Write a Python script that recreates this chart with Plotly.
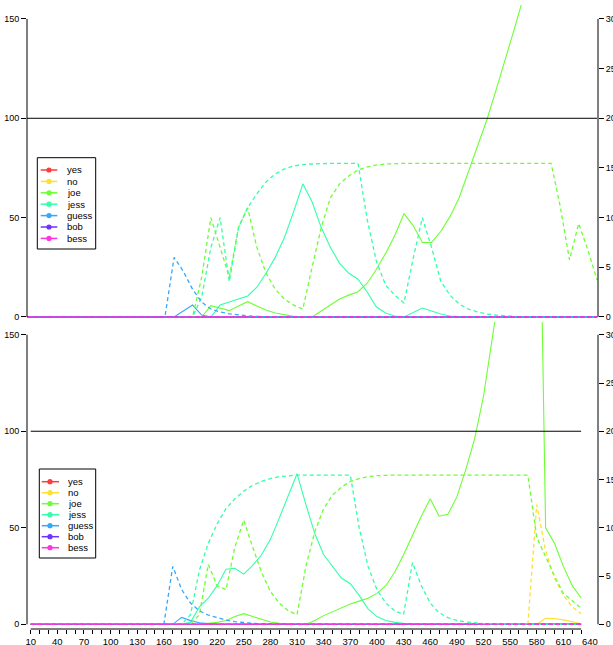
import plotly.graph_objects as go

# ---------------- data ----------------
x = list(range(10, 640, 10))  # 63 points
series = ["yes", "no", "joe", "jess", "guess", "bob", "bess"]
colors = ["#ff3b3b", "#ffdf33", "#6dff33", "#33ffa8", "#33a8ff", "#6d33ff", "#ff33e2"]
zeros = [0] * 63

# top panel, solid (left axis)
top_joe_solid = [0,0,0,0,0,0,0,0,0,0,
                 0,0,0,0,0,0,0,0,0,0,
                 5.7,4.5,3.2,5.5,7.7,5.5,3.5,2.0,1.0,0.3,
                 0,0,3,6,9,11,12.7,17,24,32,
                 41,52,46,37.5,37.5,43,50.5,60,73,87,
                 99,114,129,145,161,178,196,215,235,256,
                 278,301,325]
top_jess_solid = [0,0,0,0,0,0,0,0,0,0,
                  0,0,0,0,0,0,0,0,0,0,
                  0,6,7.5,9,10.6,15,22,30,40,53,
                  67,58,45,35,27,22,19,12.6,5,2,
                  0.5,0,2.3,4.5,3,1.5,0.5,0.1,0,0,
                  0,0,0,0,0,0,0,0,0,0,
                  0,0,0]
top_guess_solid = [0,0,0,0,0,0,0,0,0,0,
                   0,0,0,0,0,0,0,3,6,1,
                   0,0,0,0,0,0,0,0,0,0,
                   0,0,0,0,0,0,0,0,0,0,
                   0,0,0,0,0,0,0,0,0,0,
                   0,0,0,0,0,0,0,0,0,0,
                   0,0,0]
# top panel, dashed (right axis)
top_joe_dash = [0,0,0,0,0,0,0,0,0,0,
                0,0,0,0,0,0,0,0,0,4,
                10,7,4,9,11,7,4.4,2.8,1.8,1.2,
                0.8,5,9,12,13.4,14.2,14.8,15.1,15.3,15.4,
                15.46,15.46,15.46,15.46,15.46,15.46,15.46,15.46,15.46,15.46,
                15.46,15.46,15.46,15.46,15.46,15.46,15.46,15.46,11.1,5.74,
                9.4,6.74,3.72]
top_jess_dash = [0,0,0,0,0,0,0,0,0,0,
                 0,0,0,0,0,0,0,0,0,2,
                 7,10,3.56,9,11,12.4,13.6,14.4,14.9,15.2,
                 15.34,15.4,15.46,15.46,15.46,15.46,15.46,9.8,5.6,3.2,
                 2.2,1.4,5.9,10,7,3.6,2.2,1.3,0.8,0.5,
                 0.3,0.2,0.1,0.06,0.02,0,0,0,0,0,
                 0,0,0]
top_guess_dash = [0,0,0,0,0,0,0,0,0,0,
                  0,0,0,0,0,0,6,4.6,2.8,1.5,
                  0.8,0.5,0.32,0.2,0.12,0.06,0.02,0,0,0,
                  0,0,0,0,0,0,0,0,0,0,
                  0,0,0,0,0,0,0,0,0,0,
                  0,0,0,0,0,0,0,0,0,0,
                  0,0,0]

# bottom panel, solid (left axis)
bot_no_solid = [0,0,0,0,0,0,0,0,0,0,
                0,0,0,0,0,0,0,0,0,0,
                0,0,0,0,0,0,0,0,0,0,
                0,0,0,0,0,0,0,0,0,0,
                0,0,0,0,0,0,0,0,0,0,
                0,0,0,0,0,0,0,0,3.1,3.0,
                2.3,1.3,0.3]
bot_joe_solid = [0,0,0,0,0,0,0,0,0,0,
                 0,0,0,0,0,0,0,0,0,0,
                 0.5,1,2,4,5.5,4,2.5,1.2,0.5,0.2,
                 0,0,2,4.5,6.5,8.5,10.5,12,13.5,16,
                 20,27,36,46,56,65,56,57,66,80,
                 96,118,145,175,205,240,280,330,50,42,
                 30,20,13.6]
bot_jess_solid = [0,0,0,0,0,0,0,0,0,0,
                  0,0,0,0,0,0,0,0,1,9,
                  13.5,20,28.5,29,26,30.5,36,44,55,66,
                  78,62,47,36,30,24,21,15,8,4,
                  2,1,0.5,0.2,0,0,0,0,0,0,
                  0,0,0,0,0,0,0,0,0,0,
                  0,0,0]
bot_guess_solid = [0,0,0,0,0,0,0,0,0,0,
                   0,0,0,0,0,0,0,3.6,1.9,0.8,
                   0.3,0,0,0,0,0,0,0,0,0,
                   0,0,0,0,0,0,0,0,0,0,
                   0,0,0,0,0,0,0,0,0,0,
                   0,0,0,0,0,0,0,0,0,0,
                   0,0,0]
# bottom panel, dashed (right axis)
bot_no_dash = [0,0,0,0,0,0,0,0,0,0,
               0,0,0,0,0,0,0,0,0,0,
               0,0,0,0,0,0,0,0,0,0,
               0,0,0,0,0,0,0,0,0,0,
               0,0,0,0,0,0,0,0,0,0,
               0,0,0,0,0,0,0,12.4,7.6,4.8,
               3,1.8,1.1]
bot_joe_dash = [0,0,0,0,0,0,0,0,0,0,
                0,0,0,0,0,0,0,0,0,1,
                6.2,4,3.6,8,10.8,8,5.4,3.4,2.2,1.4,
                1,6,9.6,12,13.4,14.2,14.8,15.1,15.3,15.4,
                15.46,15.46,15.46,15.46,15.46,15.46,15.46,15.46,15.46,15.46,
                15.46,15.46,15.46,15.46,15.46,15.46,15.46,9,7,5,
                3.2,2.4,1.68]
bot_jess_dash = [0,0,0,0,0,0,0,0,0,0,
                 0,0,0,0,0,0,0,0,1,5.6,
                 8.4,10.4,12,13,13.8,14.4,14.8,15.1,15.3,15.4,
                 15.46,15.46,15.46,15.46,15.46,15.46,15.46,10,6,3.6,
                 2.2,1.4,1,6.4,4,2.2,1.2,0.7,0.4,0.24,
                 0.14,0.08,0.04,0.02,0,0,0,0,0,0,
                 0,0,0]
bot_guess_dash = [0,0,0,0,0,0,0,0,0,0,
                  0,0,0,0,0,0,6,3.6,2.2,1.4,
                  0.96,0.7,0.44,0.28,0.18,0.1,0.06,0.02,0,0,
                  0,0,0,0,0,0,0,0,0,0,
                  0,0,0,0,0,0,0,0,0,0,
                  0,0,0,0,0,0,0,0,0,0,
                  0,0,0]

top_solid = {"yes": zeros, "no": zeros, "joe": top_joe_solid, "jess": top_jess_solid,
             "guess": top_guess_solid, "bob": zeros, "bess": zeros}
top_dash = {"yes": zeros, "no": zeros, "joe": top_joe_dash, "jess": top_jess_dash,
            "guess": top_guess_dash, "bob": zeros, "bess": zeros}
bot_solid = {"yes": zeros, "no": bot_no_solid, "joe": bot_joe_solid, "jess": bot_jess_solid,
             "guess": bot_guess_solid, "bob": zeros, "bess": zeros}
bot_dash = {"yes": zeros, "no": bot_no_dash, "joe": bot_joe_dash, "jess": bot_jess_dash,
            "guess": bot_guess_dash, "bob": zeros, "bess": zeros}

left_ticks = [0, 50, 100, 150]
right_ticks = [0, 5, 10, 15, 20, 25, 30]
x_ticks = list(range(10, 640, 10))
x_labels = [str(v) if (v - 10) % 30 == 0 else "" for v in x_ticks]
ref_level = 100

# ---------------- figure ----------------
W, H = 613, 645
ML, MR, MT, MB = 27, 15, 5, 16
PW, PH = W - ML - MR, H - MT - MB
SPLIT = (H - MB - 322) / PH

FONT = "Liberation Sans, Arial, Helvetica, sans-serif"
fig = go.Figure()

for name, col in zip(series, colors):
    fig.add_trace(go.Scatter(x=x, y=top_solid[name], mode="lines", xaxis="x", yaxis="y",
                             line=dict(color=col, width=1.1), showlegend=False))
    fig.add_trace(go.Scatter(x=x, y=top_dash[name], mode="lines", xaxis="x", yaxis="y2",
                             line=dict(color=col, width=1.3, dash="4px,3px"), showlegend=False))
    fig.add_trace(go.Scatter(x=x, y=bot_solid[name], mode="lines", xaxis="x2", yaxis="y3",
                             line=dict(color=col, width=1.1), showlegend=False))
    fig.add_trace(go.Scatter(x=x, y=bot_dash[name], mode="lines", xaxis="x2", yaxis="y4",
                             line=dict(color=col, width=1.3, dash="4px,3px"), showlegend=False))

ax_common = dict(showgrid=False, zeroline=False, showline=False, ticks="outside",
                 ticklen=5, tickcolor="black", tickfont=dict(size=9, color="black", family=FONT))

fig.update_layout(
    width=W, height=H, margin=dict(l=ML, r=MR, t=MT, b=MB, autoexpand=False),
    paper_bgcolor="white", plot_bgcolor="white", font=dict(family=FONT),
    xaxis=dict(domain=[0, 1], anchor="y", range=[10, 631], visible=False),
    yaxis=dict(domain=[SPLIT, 1], anchor="x", range=[-2.52, 157.0], tickvals=left_ticks, **ax_common),
    yaxis2=dict(overlaying="y", side="right", anchor="x", range=[-0.504, 31.4],
                tickvals=right_ticks, **ax_common),
    xaxis2=dict(domain=[0, 1], anchor="y3", range=[5.83, 649.0], tickvals=x_ticks,
                ticktext=x_labels, showgrid=False, zeroline=False, showline=False,
                ticks="outside", ticklen=4, tickcolor="black", tickangle=0,
                tickfont=dict(size=9.5, color="black", family=FONT)),
    yaxis3=dict(domain=[0, SPLIT], anchor="x2", range=[-2.43, 156.58], tickvals=left_ticks, **ax_common),
    yaxis4=dict(overlaying="y3", side="right", anchor="x2", range=[-0.487, 31.32],
                tickvals=right_ticks, **ax_common),
)

shapes = []
line_k = dict(color="black", width=1)
# axis lines spanning only the tick range
shapes.append(dict(type="line", xref="x domain", yref="y", x0=0, x1=0, y0=0, y1=150, line=line_k))
shapes.append(dict(type="line", xref="x domain", yref="y2", x0=1, x1=1, y0=0, y1=30, line=line_k))
shapes.append(dict(type="line", xref="x2 domain", yref="y3", x0=0, x1=0, y0=0, y1=150, line=line_k))
shapes.append(dict(type="line", xref="x2 domain", yref="y4", x0=1, x1=1, y0=0, y1=30, line=line_k))
shapes.append(dict(type="line", xref="x2", yref="y3 domain", x0=x[0], x1=x[-1], y0=0, y1=0, line=line_k))
# reference lines
shapes.append(dict(type="line", xref="x", yref="y", x0=x[0], x1=x[-1], y0=ref_level, y1=ref_level, line=line_k))
shapes.append(dict(type="line", xref="x2", yref="y3", x0=x[0], x1=x[-1], y0=ref_level, y1=ref_level, line=line_k))

annotations = [dict(text="640", xref="x2", yref="paper", x=640, y=0, yanchor="top",
                    yshift=-5, showarrow=False, font=dict(size=9.5, color="black", family=FONT))]

def px2x(p):
    return (p - ML) / PW

def py2y(p):
    return (H - MB - p) / PH

# manual legends (box, line+marker, text)
for (bx0, bx1, by0, by1, ey0, step, lx0, lx1, mx, tx) in [
        (37.3, 95.7, 157.7, 249.0, 170.0, 11.4, 40.7, 57.3, 49.0, 65.0),
        (39.3, 95.7, 469.0, 558.0, 481.7, 11.0, 41.7, 59.0, 50.0, 66.0)]:
    shapes.append(dict(type="rect", xref="paper", yref="paper", x0=px2x(bx0), x1=px2x(bx1),
                       y0=py2y(by1), y1=py2y(by0), line=dict(color="black", width=1),
                       fillcolor="white", layer="above"))
    for k, (name, col) in enumerate(zip(series, colors)):
        ey = ey0 + k * step
        shapes.append(dict(type="line", xref="paper", yref="paper", x0=px2x(lx0), x1=px2x(lx1),
                           y0=py2y(ey), y1=py2y(ey), line=dict(color=col, width=1.5), layer="above"))
        r = 2.6
        shapes.append(dict(type="circle", xref="paper", yref="paper", x0=px2x(mx - r), x1=px2x(mx + r),
                           y0=py2y(ey + r), y1=py2y(ey - r), line=dict(color=col, width=0),
                           fillcolor=col, layer="above"))
        annotations.append(dict(text=name, xref="paper", yref="paper", x=px2x(tx), y=py2y(ey),
                                xanchor="left", yanchor="middle", showarrow=False,
                                font=dict(size=9.5, color="black", family=FONT)))

fig.update_layout(shapes=shapes, annotations=annotations)
fig.write_html("out.html", config={"displayModeBar": False},
               post_script="document.body.style.margin='0px';")
